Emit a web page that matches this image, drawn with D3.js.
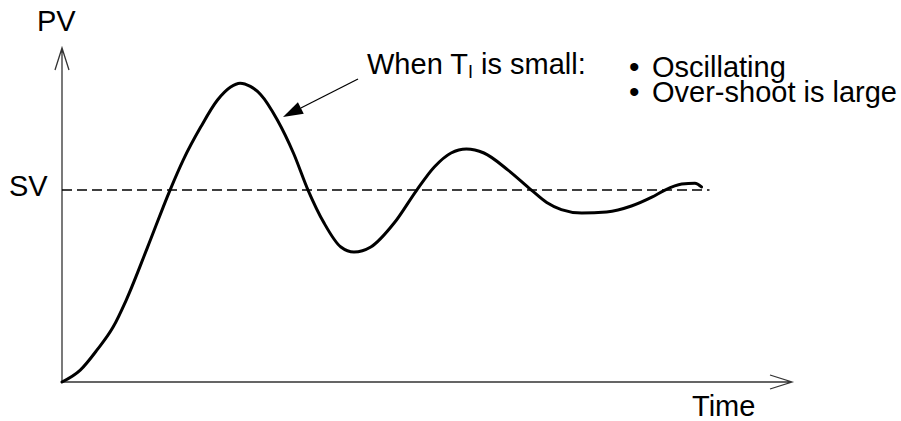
<!DOCTYPE html>
<html>
<head>
<meta charset="utf-8">
<script src="https://cdn.jsdelivr.net/npm/d3@7"></script>
<style>
  html, body { margin: 0; padding: 0; background: #fff; }
  svg text { font-family: Arial, "Liberation Sans", Helvetica, sans-serif; fill: #000; }
</style>
</head>
<body>
<svg id="chart" width="901" height="421"></svg>
<script>
// response of PV over time (SV = 1)
var times = [0, 2.5, 4.8, 7.0, 8.8, 11.7, 14.8, 16.6, 19.0, 21.3, 23.1, 24.4, 25.8, 27.2, 29.5, 31.7, 33.7,
    35.9, 38.2, 40.0, 42.3, 45.5, 48.6, 51.0, 53.3, 55.4, 57.8, 61.1, 64.3, 66.4, 68.4, 71.2,
    74.6, 78.0, 80.8, 82.6, 84.9, 86.7, 87.6];
var pvValues = [0, 0.062, 0.167, 0.286, 0.427, 0.70, 1.0, 1.156, 1.328, 1.469, 1.537, 1.557, 1.540, 1.498, 1.365, 1.193, 1.0,
    0.828, 0.703, 0.677, 0.703, 0.828, 1.0, 1.12, 1.193, 1.214, 1.193, 1.104, 1.0, 0.935, 0.898, 0.880,
    0.886, 0.917, 0.963, 1.0, 1.031, 1.036, 1.016];
var svValue = 1;
var svEnd = 88.7;
var axisLabels = ["PV", "Time"];
var noteItems = ["Oscillating", "Over-shoot is large"];

var margin = {top: 48, right: 109, bottom: 39, left: 62},
    width = 901 - margin.left - margin.right,
    height = 421 - margin.top - margin.bottom;

var x = d3.scaleLinear()
    .domain([0, 100])
    .range([0, width]);

var y = d3.scaleLinear()
    .domain([0, 1.74])
    .range([height, 0]);

var svg = d3.select('#chart');

var main = svg.append('g')
    .attr('transform', 'translate(' + margin.left + ',' + margin.top + ')');

// axes with open arrow heads
var axisColor = '#333';
main.append('path')
    .attr('d', 'M0,' + height + 'V0M-7,22L0,0L7,22')
    .attr('fill', 'none')
    .attr('stroke', axisColor)
    .attr('stroke-width', 1.3);
main.append('path')
    .attr('d', 'M0,' + height + 'H' + width + 'M' + (width - 22) + ',' + (height - 7) + 'L' + width + ',' + height + 'L' + (width - 22) + ',' + (height + 7))
    .attr('fill', 'none')
    .attr('stroke', axisColor)
    .attr('stroke-width', 1.3);

// SV line
main.append('line')
    .attr('x1', x(0))
    .attr('x2', x(svEnd))
    .attr('y1', y(svValue))
    .attr('y2', y(svValue))
    .attr('stroke', '#000')
    .attr('stroke-width', 1.6)
    .attr('stroke-dasharray', '10,5');

// PV curve
var data = times.map(function (t, i) {
    return [t, pvValues[i]];
});
var line = d3.line()
    .x(function (d) { return x(d[0]); })
    .y(function (d) { return y(d[1]); })
    .curve(d3.curveMonotoneX);

main.append('path')
    .datum(data)
    .attr('d', line)
    .attr('fill', 'none')
    .attr('stroke', '#000')
    .attr('stroke-width', 3)
    .attr('stroke-linejoin', 'round')
    .attr('stroke-linecap', 'round');

// labels
var fs = 29;
svg.append('text').attr('x', 37).attr('y', 31).style('font-size', fs + 'px').text(axisLabels[0]);
svg.append('text').attr('x', 9).attr('y', 196).style('font-size', fs + 'px').text('SV');
svg.append('text').attr('x', 692).attr('y', 416).style('font-size', fs + 'px').text(axisLabels[1]);

// annotation
var note = svg.append('text').attr('x', 367).attr('y', 74).style('font-size', fs + 'px');
note.append('tspan').text('When T');
note.append('tspan').attr('dy', 4).style('font-size', '18px').text('I');
note.append('tspan').attr('dy', -4).text(' is small:');

// bullet list as one text block
var list = svg.append('text').style('font-size', fs + 'px');
noteItems.forEach(function (d, i) {
    var yy = 77 + i * 25;
    list.append('tspan')
        .attr('x', 629).attr('y', yy)
        .style('font-size', '30px')
        .text('\u2022');
    list.append('tspan')
        .attr('x', 652).attr('y', yy)
        .text(d);
});

// pointer arrow to curve
var tip = [283, 117], tail = [358, 79];
var ang = Math.atan2(tip[1] - tail[1], tip[0] - tail[0]);
var hl = 20, hw = 6.5;
var bx = tip[0] - Math.cos(ang) * hl, by = tip[1] - Math.sin(ang) * hl;
svg.append('line')
    .attr('x1', tail[0]).attr('y1', tail[1])
    .attr('x2', bx).attr('y2', by)
    .attr('stroke', '#000')
    .attr('stroke-width', 1.3);
svg.append('path')
    .attr('d', 'M' + tip[0] + ',' + tip[1] +
        'L' + (bx + Math.sin(ang) * hw) + ',' + (by - Math.cos(ang) * hw) +
        'L' + (bx - Math.sin(ang) * hw) + ',' + (by + Math.cos(ang) * hw) + 'Z')
    .attr('fill', '#000');
</script>
</body>
</html>
